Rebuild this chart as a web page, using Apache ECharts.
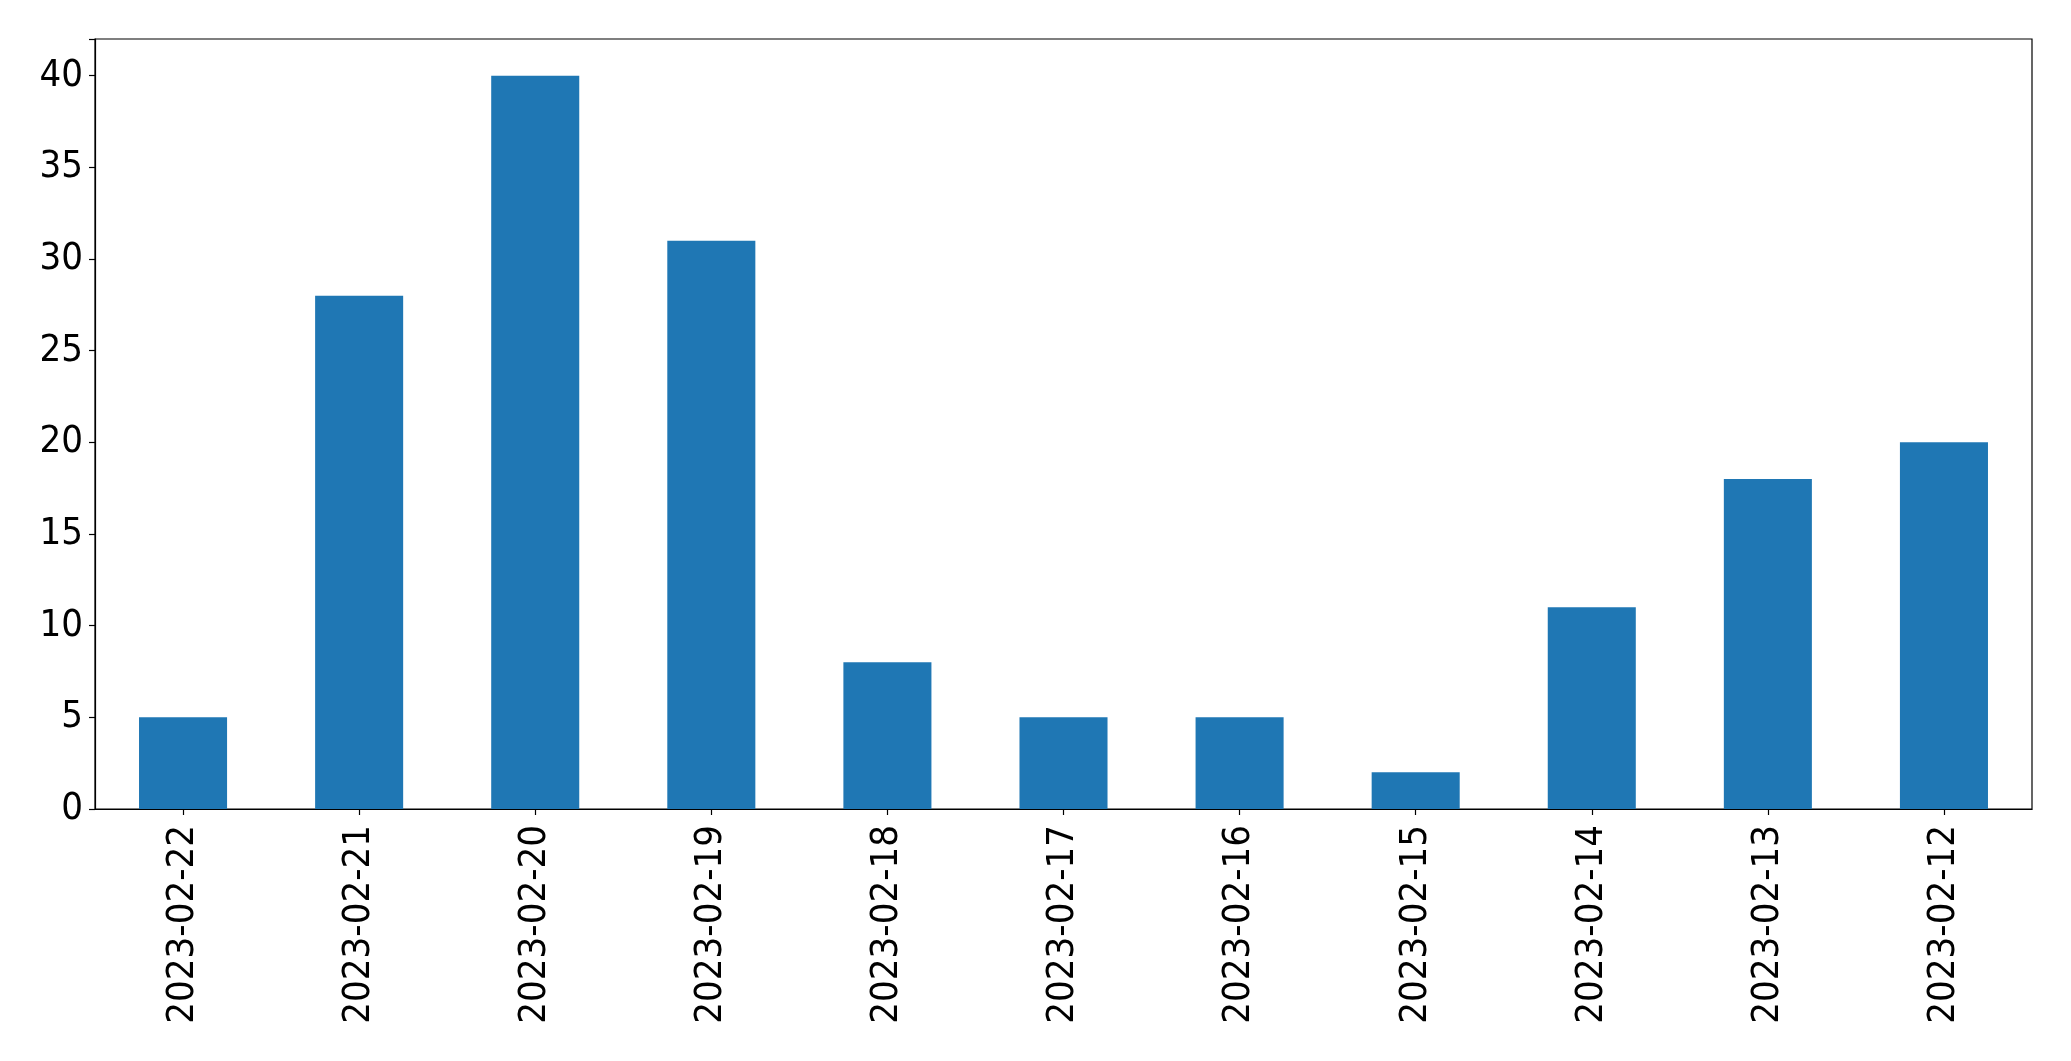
<!DOCTYPE html>
<html><head><meta charset="utf-8">
<script src="https://cdn.jsdelivr.net/npm/echarts@6/dist/echarts.min.js"></script>
<style>html,body{margin:0;padding:0;background:#fff}#c{width:2071px;height:1061px}</style>
</head><body><div id="c"></div>
<script>
const categories = ["2023-02-22","2023-02-21","2023-02-20","2023-02-19","2023-02-18","2023-02-17","2023-02-16","2023-02-15","2023-02-14","2023-02-13","2023-02-12"];
const values = [5, 28, 40, 31, 8, 5, 5, 2, 11, 18, 20];
const yTicks = [0, 5, 10, 15, 20, 25, 30, 35, 40];

const chart = echarts.init(document.getElementById('c'), null, {renderer: 'canvas'});
const font = '"DejaVu Sans Condensed", "DejaVu Sans"';
chart.setOption({
  animation: false,
  backgroundColor: '#ffffff',
  grid: {left: 95, right: 39, top: 39, bottom: 252, show: true, borderColor: '#000', borderWidth: 1.2, backgroundColor: 'transparent'},
  xAxis: {
    type: 'category', data: categories, boundaryGap: true,
    axisLine: {show: true, lineStyle: {color: '#000', width: 1.2}},
    axisTick: {show: true, alignWithLabel: true, length: 6, lineStyle: {color: '#000', width: 1.2}},
    axisLabel: {rotate: 90, margin: 16, color: '#000', fontFamily: font, fontSize: 38, interval: 0},
    splitLine: {show: false}
  },
  yAxis: {
    type: 'value', min: 0, max: 42, interval: 5,
    axisLine: {show: true, lineStyle: {color: '#000', width: 1.2}},
    axisTick: {show: true, length: 6, lineStyle: {color: '#000', width: 1.2}},
    axisLabel: {margin: 12, color: '#000', fontFamily: font, fontSize: 38,
      formatter: v => yTicks.indexOf(v) >= 0 ? String(v) : ''},
    splitLine: {show: false}
  },
  series: [{type: 'bar', data: values, barWidth: '50%', itemStyle: {color: '#1f77b4'}}]
});
</script></body></html>
